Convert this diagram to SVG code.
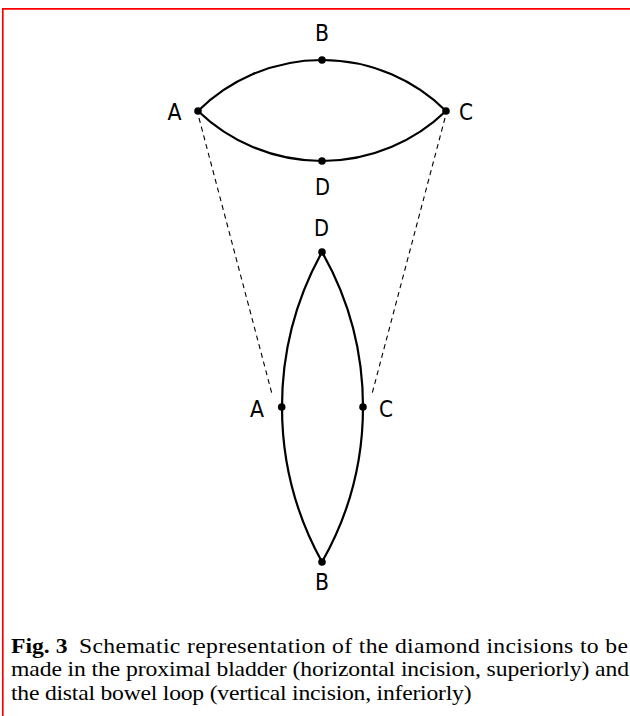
<svg xmlns="http://www.w3.org/2000/svg" width="630" height="716" viewBox="0 0 630 716">
<style>
.lbl{font-family:"DejaVu Sans Condensed","DejaVu Sans",sans-serif;font-stretch:condensed;font-size:23px;fill:#000;text-anchor:middle}
.cut{fill:none;stroke:#000;stroke-width:2.2}
.dash{fill:none;stroke:#000;stroke-width:1.1;stroke-dasharray:5 4}
.pt{fill:#000}
.cap{font-size:21.7px;fill:#000}
</style>
<rect width="630" height="716" fill="#fff"/>
<g id="frame" fill="none" stroke="#ff0000" stroke-width="1.7">
<line x1="2" y1="8.8" x2="630" y2="8.8"/>
<line x1="2.8" y1="8" x2="2.8" y2="716"/>
</g>
<g id="connectors">
<line class="dash" x1="199" y1="118" x2="272" y2="394"/>
<line class="dash" x1="445" y1="118" x2="372" y2="394"/>
</g>
<g id="bladder">
<path class="cut" d="M198,111 A176.2,176.2 0 0 1 446,111"/>
<path class="cut" d="M198,111 A178.8,178.8 0 0 0 446,111"/>
<circle class="pt" cx="198" cy="111" r="3.8"/>
<circle class="pt" cx="446" cy="111" r="3.8"/>
<circle class="pt" cx="322" cy="60" r="3.8"/>
<circle class="pt" cx="322" cy="161" r="3.8"/>
<text class="lbl" x="174.5" y="120" textLength="14" lengthAdjust="spacingAndGlyphs">A</text>
<text class="lbl" x="466" y="120" textLength="14" lengthAdjust="spacingAndGlyphs">C</text>
<text class="lbl" x="322" y="41" textLength="14" lengthAdjust="spacingAndGlyphs">B</text>
<text class="lbl" x="322.5" y="195" textLength="15" lengthAdjust="spacingAndGlyphs">D</text>
</g>
<g id="bowel">
<path class="cut" d="M322,252 A320.3,320.3 0 0 0 322,562"/>
<path class="cut" d="M322,252 A313.5,313.5 0 0 1 322,562"/>
<circle class="pt" cx="322" cy="252" r="3.8"/>
<circle class="pt" cx="322" cy="562" r="3.8"/>
<circle class="pt" cx="281.7" cy="407" r="3.8"/>
<circle class="pt" cx="363" cy="407" r="3.8"/>
<text class="lbl" x="257" y="417" textLength="14" lengthAdjust="spacingAndGlyphs">A</text>
<text class="lbl" x="386" y="417" textLength="14" lengthAdjust="spacingAndGlyphs">C</text>
<text class="lbl" x="321.5" y="236" textLength="15" lengthAdjust="spacingAndGlyphs">D</text>
<text class="lbl" x="322" y="590" textLength="14" lengthAdjust="spacingAndGlyphs">B</text>
</g>
<g id="caption" transform="translate(11,0) scale(1.09,1)" font-family="'Liberation Serif', 'Times New Roman', serif">
<text class="cap" x="0" y="653" font-weight="bold">Fig. 3</text>
<text class="cap" x="62.4" y="653" textLength="503.6" lengthAdjust="spacing">Schematic representation of the diamond incisions to be</text>
<text class="cap" x="0" y="676.5" textLength="567" lengthAdjust="spacing">made in the proximal bladder (horizontal incision, superiorly) and</text>
<text class="cap" x="0" y="700" textLength="422.5" lengthAdjust="spacing">the distal bowel loop (vertical incision, inferiorly)</text>
</g>
</svg>
